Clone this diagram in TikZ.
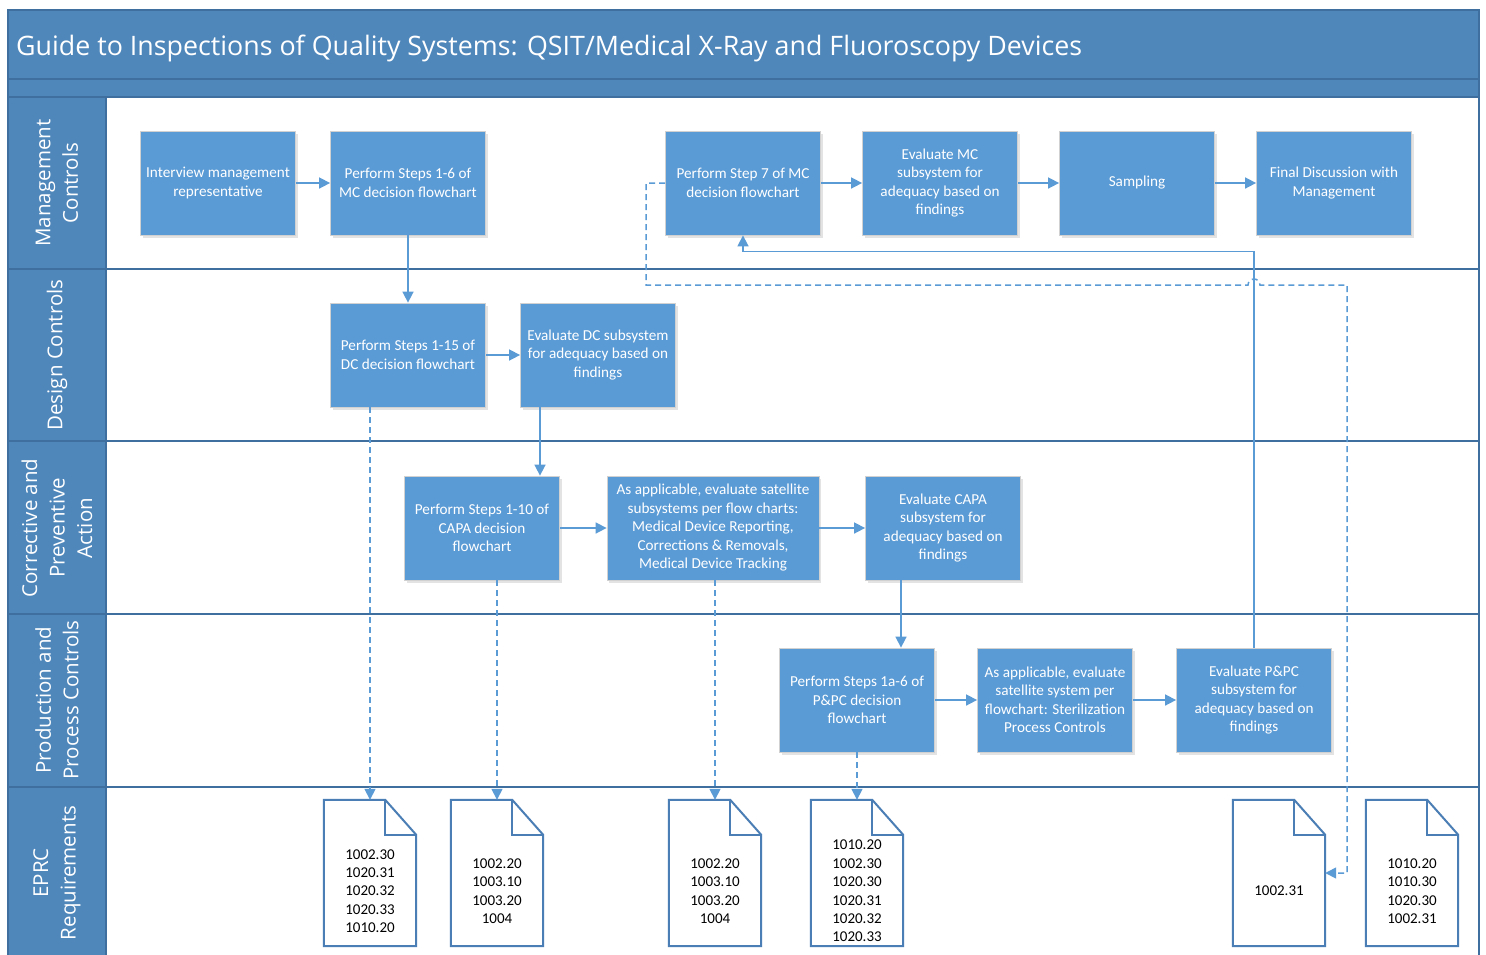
\documentclass[tikz,border=0pt]{standalone}
\usepackage{fontspec}
\setmainfont{Carlito}
\newfontfamily\hfont{Open Sans}
\usetikzlibrary{arrows.meta,shadows,calc}
\definecolor{hdr}{HTML}{4F87BB}
\definecolor{hdrline}{HTML}{3F6F9F}
\definecolor{boxblue}{HTML}{5B9BD5}
\definecolor{docline}{HTML}{4A7EB5}
\begin{document}
\begin{tikzpicture}[x=1pt,y=-1pt,
  proc/.style={rectangle, fill=boxblue, draw=black!18, line width=0.8pt,
    minimum width=155pt, minimum height=104pt, inner sep=2pt, align=center,
    text=white, font=\fontsize{15.2}{18.5}\selectfont,
    drop shadow={shadow xshift=2pt, shadow yshift=-3pt, opacity=0.22}},
  lanetext/.style={text=white, rotate=90, align=center,
    font=\hfont\fontsize{20.5}{27.5}\selectfont},
  docbox/.style={rectangle, minimum width=92pt, minimum height=146pt, inner sep=0pt},
  doctext/.style={align=center, text=black, font=\fontsize{15}{18.4}\selectfont},
  arr/.style={draw=boxblue, line width=1.6pt, -{Triangle[length=11pt,width=11pt]}},
  dasharr/.style={draw=boxblue, line width=1.5pt, dash pattern=on 6pt off 4pt,
    -{Triangle[length=11pt,width=11pt]}},
  lanebox/.style={draw=hdrline, line width=1.5pt}
]
\useasboundingbox (0,0) rectangle (1486,954);
\fill[white] (0,0) rectangle (1486,954);
% frame: title and bands
\draw[lanebox, fill=hdr] (8,10) rectangle (1479,79);
\draw[lanebox, fill=hdr] (8,79) rectangle (1479,97);
\foreach \a/\b in {97/269,269/441,441/614,614/787,787/962}{
  \draw[lanebox, fill=hdr] (8,\a) rectangle (106,\b);
  \draw[lanebox, fill=white] (106,\a) rectangle (1479,\b);
}
\node[anchor=base west, text=white, inner sep=0pt,
  font=\hfont\fontsize{26.8}{30}\selectfont] (title) at (16,55)
  {Guide to Inspections of Quality Systems: QSIT/Medical X-Ray and Fluoroscopy Devices};
% lane labels
\node[lanetext] (l1) at (57,183) {Management\\Controls};
\node[lanetext] (l2) at (57,355) {Design Controls};
\node[lanetext] (l3) at (57,528) {Corrective and\\Preventive\\Action};
\node[lanetext] (l4) at (57,700) {Production and\\Process Controls};
\node[lanetext] (l5) at (57,873) {EPRC\\Requirements};
% Management controls
\node[proc] (mc1) at (218,183) {Interview management\\representative};
\node[proc] (mc2) at (408,183) {Perform Steps 1-6 of\\MC decision flowchart};
\node[proc] (mc3) at (743,183) {Perform Step 7 of MC\\decision flowchart};
\node[proc] (mc4) at (940,183) {Evaluate MC\\subsystem for\\adequacy based on\\findings};
\node[proc] (mc5) at (1137,183) {Sampling};
\node[proc] (mc6) at (1334,183) {Final Discussion with\\Management};
% Design controls
\node[proc] (dc1) at (408,355) {Perform Steps 1-15 of\\DC decision flowchart};
\node[proc] (dc2) at (598,355) {Evaluate DC subsystem\\for adequacy based on\\findings};
% CAPA
\node[proc] (ca1) at (482,528) {Perform Steps 1-10 of\\CAPA decision\\flowchart};
\node[proc, minimum width=212pt] (ca2) at (713,528) {As applicable, evaluate satellite\\subsystems per flow charts:\\Medical Device Reporting,\\Corrections \& Removals,\\Medical Device Tracking};
\node[proc] (ca3) at (943,528) {Evaluate CAPA\\subsystem for\\adequacy based on\\findings};
% P&PC
\node[proc] (pp1) at (857,700) {Perform Steps 1a-6 of\\P\&PC decision\\flowchart};
\node[proc] (pp2) at (1055,700) {As applicable, evaluate\\satellite system per\\flowchart: Sterilization\\Process Controls};
\node[proc] (pp3) at (1254,700) {Evaluate P\&PC\\subsystem for\\adequacy based on\\findings};
% EPRC documents
\node[docbox] (d1) at (370,873) {};
\node[docbox] (d2) at (497,873) {};
\node[docbox] (d3) at (715,873) {};
\node[docbox] (d4) at (857,873) {};
\node[docbox] (d5) at (1279,873) {};
\node[docbox] (d6) at (1412,873) {};
\foreach \d in {d1,d2,d3,d4,d5,d6}{
  \draw[docline, line width=2pt, fill=white, line join=miter]
    (\d.south west) -- (\d.north west) -- ([xshift=-31pt]\d.north east)
    -- ([yshift=-35pt]\d.north east) -- (\d.south east) -- cycle;
  \draw[docline, line width=2pt] ([xshift=-31pt]\d.north east) |- ([yshift=-35pt]\d.north east);
}
\node[doctext] (d1t) at (370,891) {1002.30\\1020.31\\1020.32\\1020.33\\1010.20};
\node[doctext] (d2t) at (497,891) {1002.20\\1003.10\\1003.20\\1004};
\node[doctext] (d3t) at (715,891) {1002.20\\1003.10\\1003.20\\1004};
\node[doctext] (d4t) at (857,891) {1010.20\\1002.30\\1020.30\\1020.31\\1020.32\\1020.33};
\node[doctext] (d5t) at (1279,891) {1002.31};
\node[doctext] (d6t) at (1412,891) {1010.20\\1010.30\\1020.30\\1002.31};
% solid connectors
\draw[arr] (mc1) -- (mc2);
\draw[arr] (mc2) -- (dc1);
\draw[arr] (dc1) -- (dc2);
\draw[arr] ([xshift=-58pt]dc2.south) -- ([xshift=58pt]ca1.north);
\draw[arr] (ca1) -- (ca2);
\draw[arr] (ca2) -- (ca3);
\draw[arr] ([xshift=-42pt]ca3.south) -- ([xshift=44pt]pp1.north);
\draw[arr] (pp1) -- (pp2);
\draw[arr] (pp2) -- (pp3);
\draw[arr] (pp3.north) |- ([yshift=-16pt]mc3.south) -- (mc3.south);
\draw[arr] (mc3) -- (mc4);
\draw[arr] (mc4) -- (mc5);
\draw[arr] (mc5) -- (mc6);
% dashed connectors
\coordinate (hop) at (1248,285);
\draw[dasharr] (mc3.west) -- ++(-19,0) |- (hop) arc(180:0:6pt)
  -| ([xshift=22pt]d5.east) -- (d5.east);
\draw[dasharr] (d1.north |- dc1.south) -- (d1.north);
\draw[dasharr] (d2.north |- ca1.south) -- (d2.north);
\draw[dasharr] (d3.north |- ca2.south) -- (d3.north);
\draw[dasharr] (d4.north |- pp1.south) -- (d4.north);
\end{tikzpicture}
\end{document}
